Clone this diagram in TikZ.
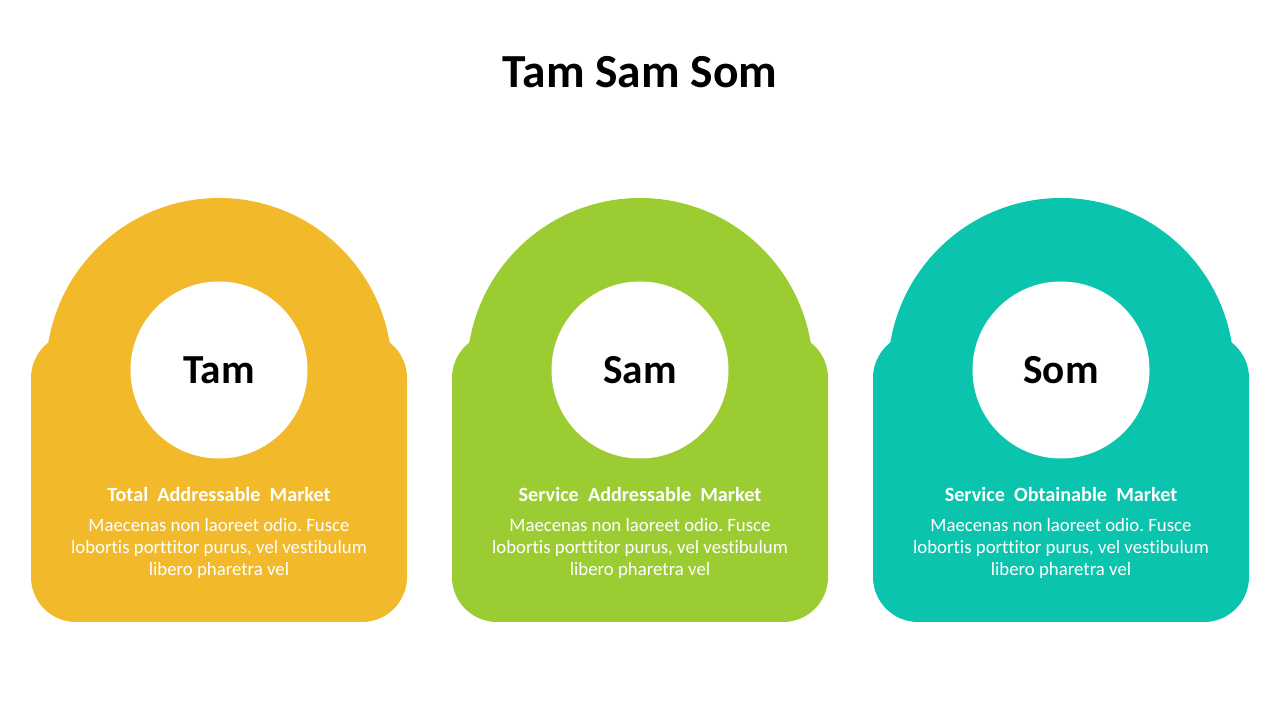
\documentclass[tikz,border=0pt]{standalone}
\usepackage{fontspec}
\setmainfont{Carlito}[Ligatures=NoCommon]
\frenchspacing
\usepackage{xcolor}
\definecolor{tamYellow}{HTML}{F2B92A}
\definecolor{samGreen}{HTML}{9BCD33}
\definecolor{somTeal}{HTML}{0BC4AE}
\usepackage{tikz}
\usetikzlibrary{positioning, calc}

\begin{document}
\begin{tikzpicture}[
        baseNode/.style={
            rectangle,
            rounded corners=0.9cm,
            minimum width=7.52cm,
            minimum height=5.78cm,
            inner sep=0pt
        },
        archNode/.style={
            circle,
            minimum size=6.92cm,
            inner sep=0pt
        },
        holeNode/.style={
            circle,
            fill=white,
            minimum size=3.54cm,
            inner sep=0pt,
            font=\fontsize{23.5}{27}\selectfont\bfseries,
            text=black
        },
        headNode/.style={
            font=\fontsize{11.5}{13.5}\selectfont\bfseries,
            text=white
        },
        bodyNode/.style={
            align=center,
            font=\fontsize{10.7}{12.75}\selectfont,
            text=white
        }
    ]

    % Canvas (1280 x 720 px, 1px = 0.02cm)
    \useasboundingbox (0,0) rectangle (25.6,14.4);

    % Title
    \node[font=\fontsize{27}{31}\selectfont\bfseries] (title) at (12.8, 12.96) {Tam Sam Som};

    % Tam panel
    \node[baseNode, fill=tamYellow] (tamBase) at (4.38, 4.85) {};
    \node[archNode, fill=tamYellow] (tamArch) at (4.38, 6.98) {};
    \node[holeNode] (tamHole) at (4.38, 7.0) {Tam};
    \node[headNode] (tamHead) at (4.38, 4.52) {Total\ \ Addressable\ \ Market};
    \node[bodyNode] (tamText) at (4.38, 3.43) {Maecenas non laoreet odio. Fusce\\lobortis porttitor purus, vel vestibulum\\libero pharetra vel};

    % Sam panel
    \node[baseNode, fill=samGreen] (samBase) at (12.8, 4.85) {};
    \node[archNode, fill=samGreen] (samArch) at (12.8, 6.98) {};
    \node[holeNode] (samHole) at (12.8, 7.0) {Sam};
    \node[headNode] (samHead) at (12.8, 4.52) {Service\ \ Addressable\ \ Market};
    \node[bodyNode] (samText) at (12.8, 3.43) {Maecenas non laoreet odio. Fusce\\lobortis porttitor purus, vel vestibulum\\libero pharetra vel};

    % Som panel
    \node[baseNode, fill=somTeal] (somBase) at (21.22, 4.85) {};
    \node[archNode, fill=somTeal] (somArch) at (21.22, 6.98) {};
    \node[holeNode] (somHole) at (21.22, 7.0) {Som};
    \node[headNode] (somHead) at (21.22, 4.52) {Service\ \ Obtainable\ \ Market};
    \node[bodyNode] (somText) at (21.22, 3.43) {Maecenas non laoreet odio. Fusce\\lobortis porttitor purus, vel vestibulum\\libero pharetra vel};

\end{tikzpicture}
\end{document}
